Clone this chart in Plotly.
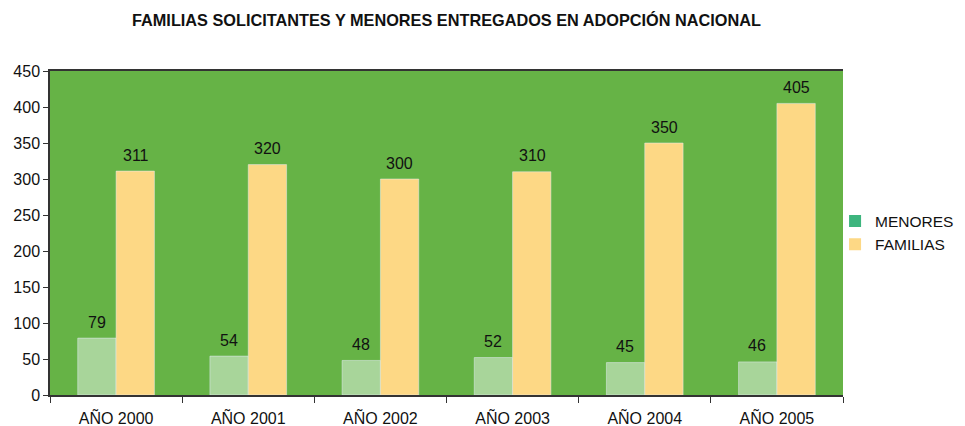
import plotly.graph_objects as go

categories = ["AÑO 2000", "AÑO 2001", "AÑO 2002", "AÑO 2003", "AÑO 2004", "AÑO 2005"]
menores = [79, 54, 48, 52, 45, 46]
familias = [311, 320, 300, 310, 350, 405]
y_ticks = [0, 50, 100, 150, 200, 250, 300, 350, 400, 450]

FONT = "Liberation Sans, Arial, sans-serif"

fig = go.Figure()
fig.add_trace(go.Bar(
    x=categories, y=menores, name="MENORES", marker_color="#A8D59A",
    showlegend=False,
))
fig.add_trace(go.Bar(
    x=categories, y=familias, name="FAMILIAS", marker_color="#FDD885",
    showlegend=False,
))
# legend entries (not drawn in plot)
fig.add_trace(go.Scatter(x=[None], y=[None], mode="markers", name="MENORES",
                         marker=dict(symbol="square", size=12, color="#3DB57E")))
fig.add_trace(go.Scatter(x=[None], y=[None], mode="markers", name="FAMILIAS",
                         marker=dict(symbol="square", size=12, color="#FDD885")))

# value labels above bars
for series, dx in ((menores, -19.5), (familias, 19.5)):
    for cat, v in zip(categories, series):
        fig.add_annotation(x=cat, y=v, text=str(v), showarrow=False,
                           xshift=dx, yshift=16, yanchor="middle",
                           font=dict(size=16, color="#111"))

fig.update_layout(
    width=957, height=418,
    margin=dict(l=42, r=122, t=63, b=31, autoexpand=False),
    paper_bgcolor="white", plot_bgcolor="#66B346",
    barmode="group", bargap=0.42, bargroupgap=0,
    font=dict(family=FONT, size=16, color="#111"),
    title=dict(text="<b>FAMILIAS SOLICITANTES Y MENORES ENTREGADOS EN ADOPCIÓN NACIONAL</b>",
               x=0.5, xref="paper", xanchor="center", y=0.971, yanchor="middle",
               font=dict(size=16.3, color="#111")),
    legend=dict(x=0.99, xanchor="left", y=0.5, yanchor="middle",
                font=dict(size=15.5), tracegroupgap=0, itemwidth=30,
                bgcolor="rgba(0,0,0,0)"),
    showlegend=True,
)
fig.update_xaxes(
    type="category", showgrid=False, showline=True, linecolor="#333", linewidth=1.5,
    mirror=True, ticks="outside", tickson="boundaries", ticklen=6, tickcolor="#333",
    tickfont=dict(size=16), automargin=False, ticklabelstandoff=8,
)
fig.update_yaxes(
    range=[0, 450], tickvals=y_ticks, showgrid=False, showline=True, linecolor="#333",
    linewidth=1.5, ticks="outside", ticklen=5, tickcolor="#333", zeroline=False,
    tickfont=dict(size=16), automargin=False,
)

fig.write_html("out.html")
